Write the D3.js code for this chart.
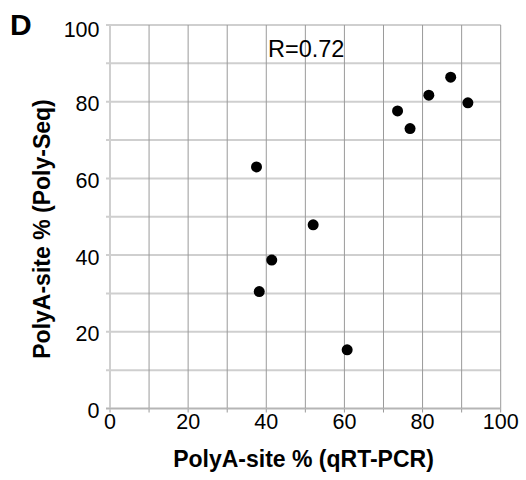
<!DOCTYPE html>
<html><head><meta charset="utf-8">
<script src="https://cdn.jsdelivr.net/npm/d3@7"></script>
<style>body{margin:0;background:#fff}svg{display:block}</style>
</head><body>
<script>
const qpcr = [37.5, 73.6, 76.8, 81.6, 87.2, 91.6, 52.0, 41.4, 38.2, 60.7];
const polyseq = [63.0, 77.6, 73.0, 81.7, 86.4, 79.7, 47.9, 38.7, 30.5, 15.3];
const xTickLabels = [0, 20, 40, 60, 80, 100];
const yTickLabels = [0, 20, 40, 60, 80, 100];
const gridValues = [0,10,20,30,40,50,60,70,80,90,100];
const rLabel = "R=0.72";
const panelLabel = "D";

const W = 526, H = 480;
const svg = d3.select("body").append("svg").attr("width", W).attr("height", H);
const x = d3.scaleLinear().domain([0,100]).range([110, 500.7]);
const y = d3.scaleLinear().domain([0,100]).range([408.5, 25]);
const font = "'Liberation Sans', Arial, Helvetica, sans-serif";

// horizontal gridlines (light, thicker)
svg.append("g").selectAll("line").data(gridValues).join("line")
  .attr("x1", 106).attr("x2", x(100)).attr("y1", d=>y(d)).attr("y2", d=>y(d))
  .attr("stroke", "#cfcfcf").attr("stroke-width", 2);
// vertical gridlines (darker, thin)
svg.append("g").selectAll("line").data(gridValues.filter(d=>d>0)).join("line")
  .attr("x1", d=>x(d)).attr("x2", d=>x(d)).attr("y1", y(100)).attr("y2", 412.5)
  .attr("stroke", "#9a9a9a").attr("stroke-width", 1);
// left axis line
svg.append("line").attr("x1", x(0)).attr("x2", x(0)).attr("y1", y(100)-1).attr("y2", 412.5)
  .attr("stroke", "#cfcfcf").attr("stroke-width", 2);
// bottom axis line
svg.append("line").attr("x1", 106).attr("x2", x(100)).attr("y1", y(0)).attr("y2", y(0))
  .attr("stroke", "#b5b5b5").attr("stroke-width", 1.5);

// tick labels
svg.append("g").selectAll("text").data(yTickLabels).join("text")
  .attr("x", 99.5).attr("y", d=>Math.max(y(d)+9.5, 37)).attr("text-anchor","end")
  .attr("font-family", font).attr("font-size", 21.5).attr("fill","#000").text(d=>d);
svg.append("g").selectAll("text").data(xTickLabels).join("text")
  .attr("x", d=>x(d)).attr("y", 428.5).attr("text-anchor","middle")
  .attr("font-family", font).attr("font-size", 21.5).attr("fill","#000").text(d=>d);

// axis titles
svg.append("text").attr("x", 303.5).attr("y", 466.5).attr("text-anchor","middle")
  .attr("font-family", font).attr("font-size", 23).attr("font-weight","bold").text("PolyA-site % (qRT-PCR)");
svg.append("text").attr("transform","translate(50,229) rotate(-90)").attr("text-anchor","middle")
  .attr("font-family", font).attr("font-size", 23).attr("font-weight","bold").text("PolyA-site % (Poly-Seq)");

// panel label & R
svg.append("text").attr("x", 10).attr("y", 35).attr("font-family", font).attr("font-size", 30)
  .attr("font-weight","bold").text(panelLabel);
svg.append("text").attr("x", 268).attr("y", 57.3).attr("font-family", font).attr("font-size", 23.5).text(rLabel);

// points
svg.append("g").selectAll("circle").data(qpcr.map((v,i)=>[v, polyseq[i]])).join("circle")
  .attr("cx", d=>x(d[0])).attr("cy", d=>y(d[1])).attr("r", 5.5).attr("fill","#000");
</script>
</body></html>
